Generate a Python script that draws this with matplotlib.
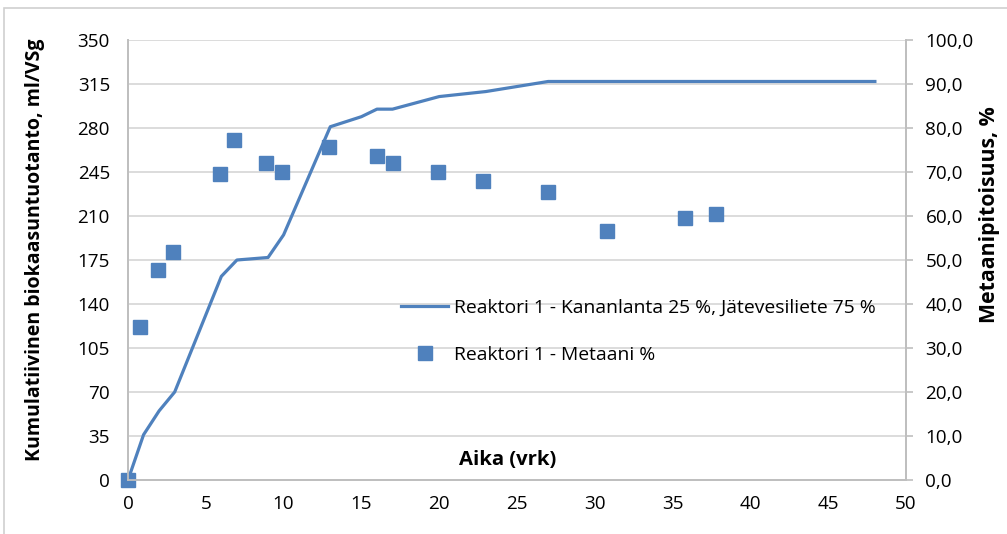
import matplotlib.pyplot as plt
from matplotlib.patches import Rectangle

plt.rcParams['font.family'] = ['Open Sans', 'DejaVu Sans']

# cumulative biogas production (left axis)
days_gas = [0, 1, 2, 3, 6, 7, 9, 10, 13, 15, 16, 17, 20, 23, 25, 27, 48]
gas = [0, 36, 55, 70, 162, 175, 177, 195, 281, 289, 295, 295, 305, 309, 313, 317, 317]

# methane content (right axis)
days_ch4 = [0, 0.8, 1.9, 2.9, 5.9, 6.8, 8.9, 9.9, 12.9, 16, 17, 19.9, 22.8, 27, 30.8, 35.8, 37.8]
ch4 = [0, 34.7, 47.7, 51.9, 69.5, 77.2, 72.1, 69.9, 75.6, 73.6, 72.0, 70.0, 68.0, 65.5, 56.6, 59.5, 60.5]

left_ticks = [0, 35, 70, 105, 140, 175, 210, 245, 280, 315, 350]
right_ticks = [0, 10, 20, 30, 40, 50, 60, 70, 80, 90, 100]
right_labels = ["0,0", "10,0", "20,0", "30,0", "40,0", "50,0", "60,0", "70,0", "80,0", "90,0", "100,0"]
x_ticks = [0, 5, 10, 15, 20, 25, 30, 35, 40, 45, 50]

blue = "#4f81bd"
axis_gray = "#bfbfbf"
grid_gray = "#d9d9d9"

W, H = 1007, 534
fig = plt.figure(figsize=(W / 100, H / 100), dpi=100)
fig.patches.append(Rectangle((4 / W, -0.05), 1.1, 1 - 8 / H + 0.05, transform=fig.transFigure,
                             fill=False, edgecolor="#d0d0d0", lw=1.2))

ax = fig.add_axes([128 / W, (H - 480) / H, (906 - 128) / W, 440 / H])
ax2 = ax.twinx()

ax.plot(days_gas, gas, color=blue, lw=2.3, label="Reaktori 1 - Kananlanta 25 %, Jätevesiliete 75 %")
ax2.plot(days_ch4, ch4, ls="none", marker="s", ms=9.5, color=blue, clip_on=False,
         label="Reaktori 1 - Metaani %")

ax.set_xlim(0, 50)
ax.set_ylim(0, 350)
ax2.set_ylim(0, 100)
ax.set_xticks(x_ticks)
ax.set_yticks(left_ticks)
ax2.set_yticks(right_ticks)
ax2.set_yticklabels(right_labels)

ax.grid(axis="y", color=grid_gray, lw=1.3)
ax.set_axisbelow(True)
for a in (ax, ax2):
    a.spines["top"].set_visible(False)
    for s in ("left", "right", "bottom"):
        a.spines[s].set_color(axis_gray)
        a.spines[s].set_linewidth(1.3)
fs = 13.6
ax.tick_params(axis="x", length=0, pad=11, labelsize=fs)
ax.tick_params(axis="y", length=0, pad=13, labelsize=fs)
ax2.tick_params(axis="y", length=5, width=1.2, color=axis_gray, pad=9, labelsize=fs)

ax.set_ylabel("Kumulatiivinen biokaasuntuotanto, ml/VSg", fontsize=14.0, fontweight="bold")
ax.yaxis.set_label_coords(-83 / 778, 230 / 440)
ax2.set_ylabel("Metaanipitoisuus, %", fontsize=15.3, fontweight="bold", rotation=90)
ax2.yaxis.set_label_coords(1 + 73 / 778, 265 / 440)
ax.text(380 / 778, 20 / 440, "Aika (vrk)", transform=ax.transAxes, ha="center", va="center",
        fontsize=14.6, fontweight="bold")

h1, l1 = ax.get_legend_handles_labels()
h2, l2 = ax2.get_legend_handles_labels()
ax2.legend(h1 + h2, l1 + l2, loc="upper left", bbox_to_anchor=(401 / W, (H - 299) / H),
           bbox_transform=fig.transFigure, frameon=False, fontsize=13.9, labelspacing=1.5,
           handlelength=2.45, handletextpad=0.27, borderpad=0, borderaxespad=0)

fig.savefig("out.png", dpi=100)
